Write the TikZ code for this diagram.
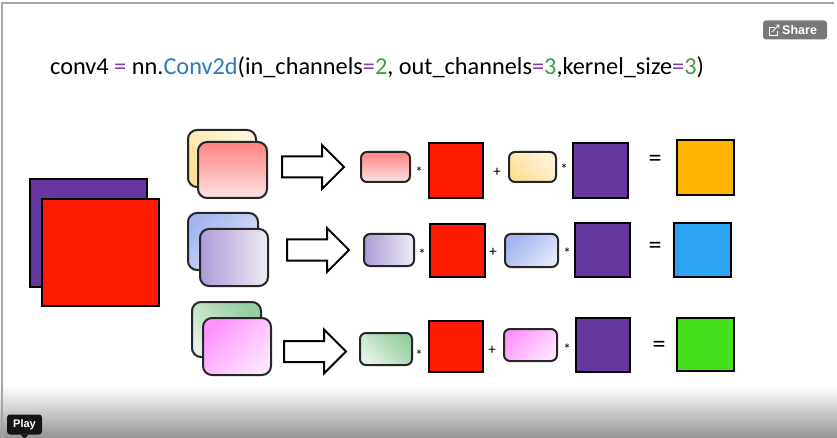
\documentclass[tikz,border=0pt]{standalone}
\usepackage{fontspec}
\setmainfont{Carlito}
\newfontfamily\uifont{Liberation Sans}

\definecolor{eqpurple}{HTML}{7E3BA8}
\definecolor{codeblue}{HTML}{2F79C4}
\definecolor{numgreen}{HTML}{3E9F3E}
\definecolor{chred}{HTML}{FF1A00}
\definecolor{chpurple}{HTML}{66389E}
\definecolor{outorange}{HTML}{FFB400}
\definecolor{outblue}{HTML}{2AA3F2}
\definecolor{outgreen}{HTML}{46E01C}
\definecolor{redA}{HTML}{FF8282}
\definecolor{redB}{HTML}{FFE3E3}
\definecolor{yelA}{HTML}{FFDF96}
\definecolor{yelB}{HTML}{FFF4DC}
\definecolor{bluA}{HTML}{A3B4EE}
\definecolor{bluB}{HTML}{E2E7F8}
\definecolor{purA}{HTML}{AC9CD6}
\definecolor{purB}{HTML}{EEEBF3}
\definecolor{grnA}{HTML}{94CE9E}
\definecolor{grnB}{HTML}{E3F2E6}
\definecolor{pnkA}{HTML}{FF94FF}
\definecolor{pnkB}{HTML}{FFE3FF}

\tikzset{blockarrow/.pic={
  \draw[line width=2pt,line join=miter,fill=white]
    (-31,-10.5) -- (9,-10.5) -- (9,-22) -- (31,0) -- (9,22) -- (9,10.5) -- (-31,10.5) -- cycle;}}

\begin{document}
\begin{tikzpicture}[x=1pt,y=-1pt,
  chan/.style={draw=black,line width=2.5pt,inner sep=0pt},
  kern/.style={draw=black!85,line width=2pt,rounded corners=9pt,inner sep=0pt},
  smallkern/.style={kern,rounded corners=6pt},
  op/.style={inner sep=0pt,font=\fontsize{15}{15}\selectfont},
  eq/.style={inner sep=0pt,font=\fontsize{26}{26}\selectfont}]
\useasboundingbox (0,0) rectangle (837,438);
\fill[white] (0,0) rectangle (837,438);
% bottom fade of the player
\shade[top color=white,bottom color=black!42] (0,386) rectangle (837,438);
\draw[black!35,line width=1.5pt] (2,438) -- (2,3) -- (834,3);

\node[anchor=base west,inner sep=0pt,font=\fontsize{24.3}{24.3}\selectfont] (title) at (50,75) {conv4 \textcolor{eqpurple}{=} nn.\textcolor{codeblue}{Conv2d}(in\_channels\textcolor{eqpurple}{=}\textcolor{numgreen}{2}, out\_channels\textcolor{eqpurple}{=}\textcolor{numgreen}{3},kernel\_size\textcolor{eqpurple}{=}\textcolor{numgreen}{3})};

% input with two channels
\node[chan,fill=chpurple,minimum width=117,minimum height=108] (inB) at (88.5,233) {};
\node[chan,fill=chred,minimum width=117,minimum height=107] (inA) at (100.5,252.5) {};

% filter 1
\node[kern,top color=yelB,bottom color=yelA,shading angle=-45,minimum width=68,minimum height=57] (f1b) at (222,158.5) {};
\node[kern,top color=redA,bottom color=redB,minimum width=69,minimum height=56] (f1a) at (232.5,170) {};
\pic at (313,167) {blockarrow};
\node[smallkern,top color=redA,bottom color=redB,minimum width=49,minimum height=30] (k1a) at (385.5,167) {};
\node[op] (m1a) at (419,172) {*};
\node[chan,fill=chred,minimum width=54,minimum height=55] (c1a) at (456,170.5) {};
\node[op] (p1) at (497,172) {+};
\node[smallkern,top color=yelB,bottom color=yelA,shading angle=-45,minimum width=47,minimum height=30] (k1b) at (532.5,167) {};
\node[op] (m1b) at (564,169) {*};
\node[chan,fill=chpurple,minimum width=55,minimum height=55] (c1b) at (600.5,170.5) {};
\node[eq] (e1) at (655,161) {=};
\node[chan,fill=outorange,minimum width=57,minimum height=55] (o1) at (705.5,167.5) {};

% filter 2
\node[kern,top color=bluA,bottom color=bluB,shading angle=45,minimum width=70,minimum height=57] (f2b) at (223,241.5) {};
\node[kern,left color=purA,right color=purB,minimum width=68,minimum height=57] (f2a) at (234,257.5) {};
\pic at (318,250) {blockarrow};
\node[smallkern,left color=purA,right color=purB,minimum width=50,minimum height=32] (k2a) at (389,250) {};
\node[op] (m2a) at (422,254) {*};
\node[chan,fill=chred,minimum width=55,minimum height=53] (c2a) at (457.5,250.5) {};
\node[op] (p2) at (493,252) {+};
\node[smallkern,top color=bluA,bottom color=bluB,shading angle=45,minimum width=53,minimum height=33] (k2b) at (531.5,250.5) {};
\node[op] (m2b) at (567,253) {*};
\node[chan,fill=chpurple,minimum width=55,minimum height=54] (c2b) at (602.5,250) {};
\node[eq] (e2) at (655,248) {=};
\node[chan,fill=outblue,minimum width=57,minimum height=54] (o2) at (702.5,250) {};

% filter 3
\node[kern,top color=grnA,bottom color=grnB,shading angle=-45,minimum width=69,minimum height=55] (f3b) at (226.5,329.5) {};
\node[kern,top color=pnkA,bottom color=pnkB,shading angle=45,minimum width=68,minimum height=57] (f3a) at (237,346.5) {};
\pic at (315,351.5) {blockarrow};
\node[smallkern,top color=grnA,bottom color=grnB,shading angle=-45,minimum width=52,minimum height=32] (k3a) at (386,349) {};
\node[op] (m3a) at (419,355) {*};
\node[chan,fill=chred,minimum width=54,minimum height=51] (c3a) at (456,346.5) {};
\node[op] (p3) at (492,350) {+};
\node[smallkern,top color=pnkA,bottom color=pnkB,shading angle=45,minimum width=53,minimum height=32] (k3b) at (530.5,345) {};
\node[op] (m3b) at (567,349) {*};
\node[chan,fill=chpurple,minimum width=54,minimum height=54] (c3b) at (603,345) {};
\node[eq] (e3) at (659,347) {=};
\node[chan,fill=outgreen,minimum width=57,minimum height=53] (o3) at (705.5,344.5) {};

% player buttons
\node[fill=black!53,rounded corners=3pt,minimum width=64,minimum height=19,inner sep=0pt] (share) at (795,30) {};
\node[anchor=west,inner sep=0pt,text=white,font=\uifont\bfseries\fontsize{12.5}{12.5}\selectfont] (sharetxt) at (782,30) {Share};
\draw[white,line width=0.8pt] (775,27) -- (769,27) -- (769,35) -- (777,35) -- (777,31);
\draw[white,line width=0.8pt] (772,32) -- (779,25) (775.5,25) -- (779,25) -- (779,28.5);
\node[fill=black!92,rounded corners=3pt,minimum width=35,minimum height=20,inner sep=0pt,
  text=white,font=\uifont\bfseries\fontsize{11}{11}\selectfont] (play) at (24.5,424.5) {Play};
\fill[black!92] (play.south) ++(-4,0) -- ++(8,0) -- ++(-4,4) -- cycle;
\end{tikzpicture}
\end{document}
